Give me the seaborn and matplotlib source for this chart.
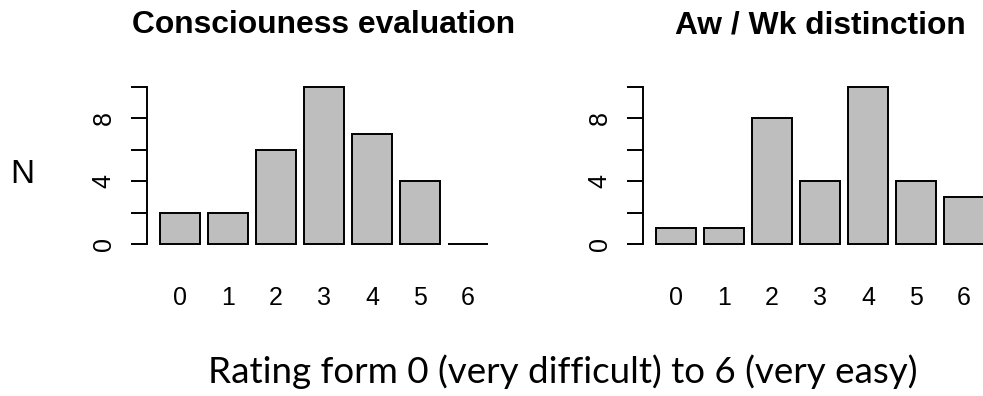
import matplotlib
matplotlib.use("Agg")
import matplotlib.pyplot as plt
import seaborn as sns
import pandas as pd

# ---- data ----
ratings = ["0", "1", "2", "3", "4", "5", "6"]
consciousness_n = [2, 2, 6, 10, 7, 4, 0]
aw_wk_n = [1, 1, 8, 4, 10, 4, 3]
panel_titles = ["Consciouness evaluation", "Aw / Wk distinction"]
y_ticks = [0, 2, 4, 6, 8, 10]
y_labels = ["0", "", "4", "", "8", ""]
y_title = "N"
x_title = "Rating form 0 (very difficult) to 6 (very easy)"

sns.set_theme(style="white")
plt.rcParams["font.family"] = ["Liberation Sans", "DejaVu Sans"]

W, H = 983, 396
DPI = 100
fig = plt.figure(figsize=(W / DPI, H / DPI), dpi=DPI)
fig.patch.set_facecolor("white")

def fx(px):
    return px / W

def fy(py):
    return 1 - py / H

PX_PER_X = 48.0
PX_PER_Y = 15.7
XLIM = (-0.6875, 6.5)
YLIM = (-0.5, 10.5)
zero_y_px = 244.0
ax_w_px = (XLIM[1] - XLIM[0]) * PX_PER_X
ax_h_px = (YLIM[1] - YLIM[0]) * PX_PER_Y
ax_bottom_px = zero_y_px - YLIM[0] * PX_PER_Y

panels = [
    (147.0, consciousness_n, panel_titles[0]),
    (643.0, aw_wk_n, panel_titles[1]),
]

LW = 1.4
for left_px, vals, title in panels:
    ax = fig.add_axes([fx(left_px), fy(ax_bottom_px), ax_w_px / W, ax_h_px / H])
    ax.set_facecolor("none")
    df = pd.DataFrame({"rating": ratings, "n": vals})
    sns.barplot(data=df, x="rating", y="n", order=ratings, color="#BEBEBE",
                saturation=1, edgecolor="black", linewidth=LW,
                width=40 / 48, ax=ax, errorbar=None)
    ax.set_xlim(*XLIM)
    ax.set_ylim(*YLIM)
    for s in ["top", "right", "bottom"]:
        ax.spines[s].set_visible(False)
    ax.spines["left"].set_visible(True)
    ax.spines["left"].set_color("black")
    ax.spines["left"].set_linewidth(LW)
    ax.spines["left"].set_bounds(0, 10)
    ax.set_yticks(y_ticks)
    ax.set_yticklabels(y_labels)
    ax.tick_params(axis="y", length=11.5, width=LW, color="black", left=True,
                   pad=11.0, labelsize=18, labelcolor="black")
    for lab in ax.get_yticklabels():
        lab.set_rotation(90)
        lab.set_va("center")
        lab.set_ha("right")
    ax.tick_params(axis="x", length=0, pad=24.6, labelsize=18, labelcolor="black")
    ax.set_xlabel("")
    ax.set_ylabel("")
    ax.grid(False)
    centre_px = left_px + (0 - XLIM[0]) * PX_PER_X + 3 * PX_PER_X
    fig.text(fx(centre_px), fy(33.3), title, ha="center", va="baseline",
             fontsize=22.9, fontweight="bold", color="black")

fig.text(fx(22.2), fy(183.3), y_title, ha="center", va="baseline",
         fontsize=24, color="black")

xt = fig.text(fx(208), fy(383), x_title, ha="left", va="baseline",
              fontsize=24, color="black", family=["Lato", "DejaVu Sans"])
fig.canvas.draw()
bb = xt.get_window_extent(renderer=fig.canvas.get_renderer())
xt.set_fontsize(24 * 710.0 / bb.width)

fig.savefig("out.png", dpi=DPI, facecolor="white")
